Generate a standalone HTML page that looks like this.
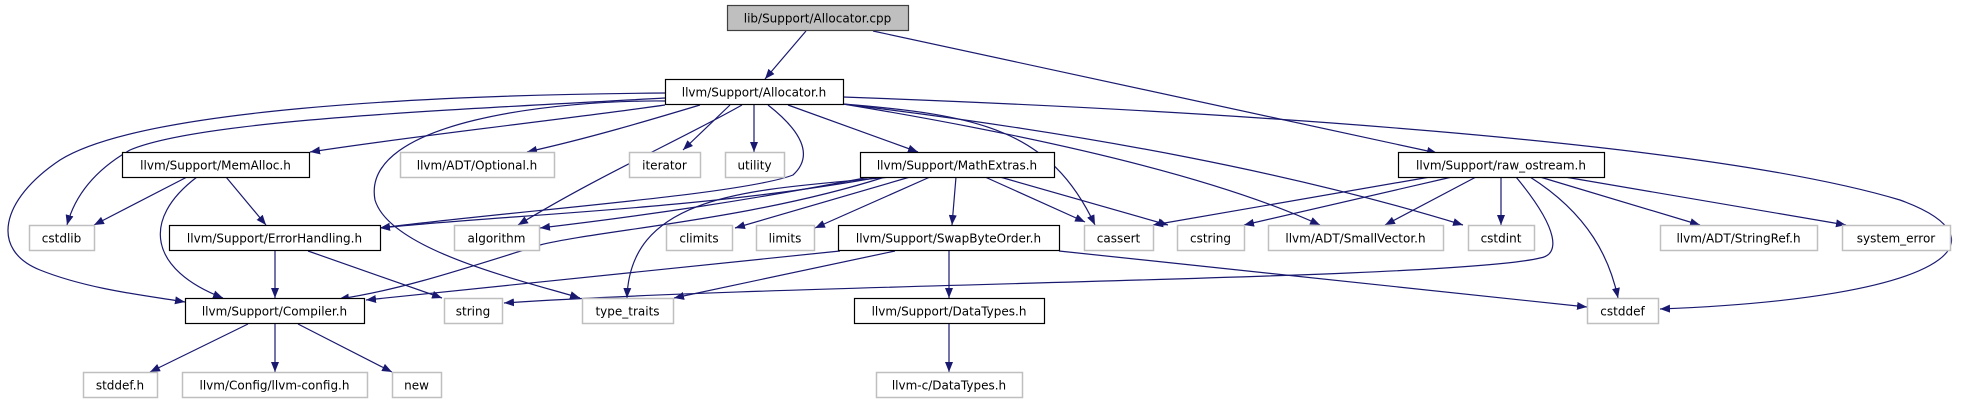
<!DOCTYPE html>
<html><head><meta charset="utf-8"><style>
html,body{margin:0;padding:0;background:#fff;}
svg{display:block;}
text{font-family:"DejaVu Sans","Liberation Sans",sans-serif;font-size:12px;fill:#000;}
</style></head><body>
<svg id="g" width="1972" height="403" viewBox="0 0 1972 403" xmlns="http://www.w3.org/2000/svg">
<defs><marker id="ah" markerWidth="11" markerHeight="8" refX="10" refY="4" orient="auto" markerUnits="userSpaceOnUse"><path d="M0,0 L10,4 L0,8 Z" fill="#191970"/></marker></defs>
<g id="edges"></g><g id="nodes"></g>
</svg>
<script>
// nodes: id, label, x1, x2, row-y, kind (0 root,1 documented,2 external)
const nodeIds=["cpp","alloc","memalloc","optional","iterator","utility","math","raw","cstdlib","errh","algorithm","climits","limits","swap","cassert","cstring","smallvec","cstdint","stringref","syserr","compiler","string","typetraits","datatypes","cstddef","stddef","llvmconfig","new","cdatatypes"];
const nodeLabels=["lib/Support/Allocator.cpp","llvm/Support/Allocator.h","llvm/Support/MemAlloc.h","llvm/ADT/Optional.h","iterator","utility","llvm/Support/MathExtras.h","llvm/Support/raw_ostream.h","cstdlib","llvm/Support/ErrorHandling.h","algorithm","climits","limits","llvm/Support/SwapByteOrder.h","cassert","cstring","llvm/ADT/SmallVector.h","cstdint","llvm/ADT/StringRef.h","system_error","llvm/Support/Compiler.h","string","type_traits","llvm/Support/DataTypes.h","cstddef","stddef.h","llvm/Config/llvm-config.h","new","llvm-c/DataTypes.h"];
const nodeX1=[727,665,122,400,629,725,860,1398,29,169,454,666,756,838,1084,1177,1268,1468,1660,1842,185,444,582,854,1587,83,182,392,876];
const nodeX2=[908,843,309,554,700,784,1054,1604,94,380,539,732,814,1059,1153,1244,1443,1534,1817,1950,364,502,673,1044,1658,157,367,441,1022];
const nodeY=[5,79,152,152,152,152,152,152,225,225,225,225,225,225,225,225,225,225,225,225,298,298,298,298,298,372,372,372,372];
const nodeKind=[0,1,1,2,2,2,1,1,2,1,2,2,2,1,2,2,2,2,2,2,1,2,2,1,2,2,2,2,2];
const edgePaths=[
"M806,31 L765,79","M873,31 L1437,153",
"M665,105 C560,120 420,135 310,152","M700,105 C650,120 590,138 527,152","M730,105 L683,150","M754,105 L754,152","M788,105 L918,152",
"M742,105 C680,140 600,175 518,225","M768,105 C800,130 815,155 793,175 C740,195 520,210 380,228",
"M665,98 C450,110 200,120 130,150 C95,170 75,195 67,225","M665,93 C420,95 140,110 60,160 C0,200 -10,250 40,270 C90,290 150,296 185,302",
"M665,101 C560,100 360,120 375,200 C390,250 520,280 580,298",
"M843,104 C980,115 1050,130 1095,225","M843,104 C1000,130 1200,170 1320,225","M843,104 C1100,135 1300,175 1463,225","M843,97 C1200,110 1700,140 1900,200 C2010,240 1950,298 1660,309",
"M187,177 L94,225","M226,177 L266,225","M197,177 C140,220 150,270 223,298",
"M275,251 L275,298","M308,251 L442,298",
"M880,177 C700,210 500,215 380,228","M870,177 C750,200 650,215 540,228","M885,177 C750,220 600,230 540,245 C460,270 400,290 339,299","M890,177 C760,190 630,190 627,298",
"M910,177 L735,228","M930,177 L815,228","M956,177 L952,225","M985,177 L1085,222","M1000,177 L1168,225",
"M840,251 L366,300","M895,251 L674,298","M949,251 L949,298","M1059,251 L1587,307",
"M1430,177 L1153,225","M1452,177 L1244,225","M1476,177 L1385,225","M1501,177 L1501,225","M1516,177 C1560,230 1560,255 1540,258 C1450,280 800,283 504,303","M1530,177 C1590,215 1610,260 1618,298","M1540,177 L1700,225","M1565,177 L1846,225",
"M710,277 C600,290 650,292 673,298",
"M248,324 L150,372","M275,324 L275,372","M298,324 L392,372","M949,324 L949,372"
];
const edgeNames=["cpp-to-allocator","cpp-to-raw-ostream","alloc-to-memalloc","alloc-to-optional","alloc-to-iterator","alloc-to-utility","alloc-to-mathextras","alloc-to-algorithm","alloc-to-errorhandling","alloc-to-cstdlib","alloc-to-compiler","alloc-to-type-traits","alloc-to-cassert","alloc-to-smallvector","alloc-to-cstdint","alloc-to-cstddef","memalloc-to-cstdlib","memalloc-to-errorhandling","memalloc-to-compiler","errh-to-compiler","errh-to-string","math-to-errorhandling","math-to-algorithm","math-to-compiler","math-to-type-traits","math-to-climits","math-to-limits","math-to-swapbyteorder","math-to-cassert","math-to-cstring","swap-to-compiler","swap-to-type-traits","swap-to-datatypes","swap-to-cstddef","raw-to-cassert","raw-to-cstring","raw-to-smallvector","raw-to-cstdint","raw-to-string","raw-to-cstddef","raw-to-stringref","raw-to-system-error","raw-to-type-traits","compiler-to-stddef","compiler-to-llvm-config","compiler-to-new","datatypes-to-c-datatypes"];
const NS="http://www.w3.org/2000/svg";
const eg=document.getElementById("edges"), ng=document.getElementById("nodes");
edgePaths.forEach((d,i)=>{
  if(edgeNames[i]==="raw-to-type-traits") return;
  const p=document.createElementNS(NS,"path");
  p.setAttribute("d",d);p.setAttribute("fill","none");p.setAttribute("stroke","#191970");p.setAttribute("stroke-width","1.2");p.setAttribute("marker-end","url(#ah)");
  
  
  eg.appendChild(p);
});
nodeIds.forEach((id,i)=>{
  const g=document.createElementNS(NS,"g");
  
  
  const r=document.createElementNS(NS,"rect");
  const x1=nodeX1[i],x2=nodeX2[i],y=nodeY[i];
  r.setAttribute("x",x1+0.5);r.setAttribute("y",y+0.5);r.setAttribute("width",x2-x1);r.setAttribute("height",25);
  const k=nodeKind[i];
  r.setAttribute("fill",k===0?"#bfbfbf":"#fff");
  r.setAttribute("stroke",k===2?"#bfbfbf":(k===0?"#404040":"#000"));
  r.setAttribute("stroke-width",k===2?"1.5":"1.2");
  g.appendChild(r);
  const t=document.createElementNS(NS,"text");
  t.setAttribute("x",(x1+x2)/2);t.setAttribute("y",y+17.5);t.setAttribute("text-anchor","middle");
  t.textContent=nodeLabels[i];
  g.appendChild(t);
  ng.appendChild(g);
});
</script>
</body></html>
